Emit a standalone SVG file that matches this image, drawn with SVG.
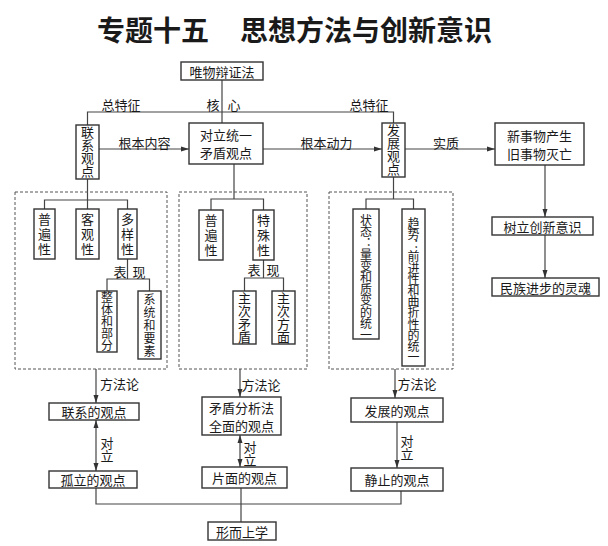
<svg xmlns="http://www.w3.org/2000/svg" width="608" height="546" viewBox="0 0 608 546">
<style>
text{font-family:"Noto Sans CJK SC","Noto Sans CJK TC",sans-serif;fill:#1a1a1a;font-size:13px;text-anchor:middle;dominant-baseline:central}
.title{font-size:28px;font-weight:bold;text-anchor:start}
.v{writing-mode:vertical-rl;text-orientation:upright}
.s{font-size:12px}
.box{fill:#fff;stroke:#333;stroke-width:1.4}
.ln{fill:none;stroke:#444;stroke-width:1.2}
.dash{fill:none;stroke:#555;stroke-width:1;stroke-dasharray:3,2}
</style>
<defs>
<marker id="arr" markerUnits="userSpaceOnUse" markerWidth="8" markerHeight="8" viewBox="0 0 8 8" refX="8" refY="4" orient="auto-start-reverse">
<path d="M0,1.5 L8,4 L0,6.5 Z" fill="#333"/>
</marker>
</defs>
<rect width="608" height="546" fill="#fff"/>
<text class="title" y="29"><tspan x="97">专题十五</tspan><tspan x="240">思想方法与创新意识</tspan></text>

<g id="connectors">
<path class="ln" d="M222,80 V123"/>
<path class="ln" d="M87.5,125 V112 H393.5 V123"/>
<path class="ln" d="M99,149 H189" marker-end="url(#arr)"/>
<path class="ln" d="M263,149 H382" marker-end="url(#arr)"/>
<path class="ln" d="M405,149 H495" marker-end="url(#arr)"/>
<path class="ln" d="M545,165 V217" marker-end="url(#arr)"/>
<path class="ln" d="M545,235 V278" marker-end="url(#arr)"/>
<path class="ln" d="M87.5,179 V200 M44.5,209 V200 H127.5 V209 M87.5,200 V209"/>
<path class="ln" d="M127.5,259 V279 M107,291 V279 H149.5 V291"/>
<path class="ln" d="M234,164 V199 M211,210 V199 H263.5 V210"/>
<path class="ln" d="M263.5,260 V278 M244.5,291 V278 H283.5 V291"/>
<path class="ln" d="M393.5,177 V199 M366,209 V199 H413.5 V209"/>
<path class="ln" d="M96,369 V403" marker-end="url(#arr)"/>
<path class="ln" d="M240,369 V397" marker-end="url(#arr)"/>
<path class="ln" d="M395,369 V398" marker-end="url(#arr)"/>
<path class="ln" d="M96,420 V471" marker-start="url(#arr)" marker-end="url(#arr)"/>
<path class="ln" d="M240,435 V467" marker-start="url(#arr)" marker-end="url(#arr)"/>
<path class="ln" d="M397,422 V468" marker-end="url(#arr)"/>
<path class="ln" d="M96,488 V504 H401 V491 M241,488 V522"/>
<rect class="dash" x="15" y="192" width="152" height="177"/>
<rect class="dash" x="179" y="192" width="128" height="177"/>
<rect class="dash" x="329" y="192" width="124" height="177"/>
</g>

<g id="labels">
<text x="121" y="104">总特征</text>
<text x="213" y="104">核</text><text x="234" y="104">心</text>
<text x="369" y="104">总特征</text>
<text x="144.5" y="142">根本内容</text>
<text x="326.5" y="142">根本动力</text>
<text x="446" y="142">实质</text>
<text x="120" y="271">表</text><text x="139" y="271">现</text>
<text x="254" y="269">表</text><text x="273" y="269">现</text>
<text x="119.5" y="383">方法论</text>
<text x="261" y="384">方法论</text>
<text x="417" y="383">方法论</text>
<text class="v" x="107" y="450">对立</text>
<text class="v" x="250" y="453.5">对立</text>
<text class="v" x="407" y="448">对立</text>
</g>

<g id="n-wuwu"><rect class="box" x="181" y="62" width="82" height="18"/><text x="222" y="71">唯物辩证法</text></g>
<g id="n-lianxi"><rect class="box" x="76" y="125" width="23" height="54"/><text class="v" x="87.5" y="152">联系观点</text></g>
<g id="n-maodun"><rect class="box" x="189" y="123" width="74" height="41"/><text x="226" y="134.5">对立统一</text><text x="226" y="152.5">矛盾观点</text></g>
<g id="n-fazhan"><rect class="box" x="382" y="123" width="23" height="54"/><text class="v" x="393.5" y="150">发展观点</text></g>
<g id="n-xinshiwu"><rect class="box" x="495" y="123" width="89" height="42"/><text x="539.5" y="135">新事物产生</text><text x="539.5" y="153">旧事物灭亡</text></g>
<g id="n-shuli"><rect class="box" x="492" y="217" width="101" height="18"/><text x="542.5" y="226">树立创新意识</text></g>
<g id="n-minzu"><rect class="box" x="492" y="278" width="107" height="18"/><text x="545.5" y="287">民族进步的灵魂</text></g>

<g id="n-pubian1"><rect class="box" x="34" y="209" width="21" height="50"/><text class="v" x="44.5" y="235" letter-spacing="2">普遍性</text></g>
<g id="n-keguan"><rect class="box" x="76" y="209" width="23" height="50"/><text class="v" x="87.5" y="235" letter-spacing="2">客观性</text></g>
<g id="n-duoyang"><rect class="box" x="118" y="209" width="19" height="50"/><text class="v" x="127.5" y="235" letter-spacing="2">多样性</text></g>
<g id="n-zhengti"><rect class="box" x="97" y="291" width="20" height="61"/><text class="v s" x="107" y="321.5">整体和部分</text></g>
<g id="n-xitong"><rect class="box" x="138" y="291" width="23" height="68"/><text class="v s" x="149.5" y="325.5" letter-spacing="1">系统和要素</text></g>

<g id="n-pubian2"><rect class="box" x="199" y="210" width="24" height="50"/><text class="v" x="211" y="236" letter-spacing="2">普遍性</text></g>
<g id="n-teshu"><rect class="box" x="253" y="210" width="21" height="50"/><text class="v" x="263.5" y="236" letter-spacing="2">特殊性</text></g>
<g id="n-zhuci1"><rect class="box" x="233" y="291" width="23" height="53"/><text class="v" x="244.5" y="317.5">主次矛盾</text></g>
<g id="n-zhuci2"><rect class="box" x="272" y="291" width="23" height="53"/><text class="v" x="283.5" y="317.5">主次方面</text></g>

<g id="n-zhuangtai"><rect class="box" x="353" y="209" width="26" height="130"/><text class="v s" x="366" y="277.5" letter-spacing="-0.5">状态：量变和质变的统一</text></g>
<g id="n-qushi"><rect class="box" x="402" y="209" width="23" height="157"/><text class="v s" x="413.5" y="290" letter-spacing="-0.8">趋势：前进性和曲折性的统一</text></g>

<g id="n-lianxide"><rect class="box" x="49" y="403" width="90" height="17"/><text x="94" y="411.5">联系的观点</text></g>
<g id="n-guli"><rect class="box" x="49" y="471" width="88" height="17"/><text x="93" y="479.5">孤立的观点</text></g>
<g id="n-maodunfx"><rect class="box" x="202" y="397" width="79" height="38"/><text x="241.5" y="407">矛盾分析法</text><text x="241.5" y="425">全面的观点</text></g>
<g id="n-pianmian"><rect class="box" x="202" y="467" width="85" height="21"/><text x="244.5" y="477.5">片面的观点</text></g>
<g id="n-fazhande"><rect class="box" x="351" y="398" width="92" height="24"/><text x="397" y="410">发展的观点</text></g>
<g id="n-jingzhi"><rect class="box" x="351" y="468" width="92" height="23"/><text x="397" y="479.5">静止的观点</text></g>
<g id="n-xingershang"><rect class="box" x="208" y="522" width="68" height="18"/><text x="242" y="531">形而上学</text></g>
</svg>
